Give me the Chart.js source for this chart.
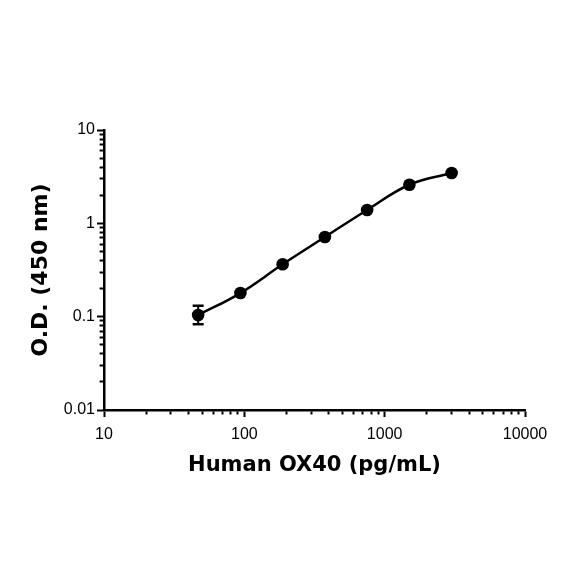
<!DOCTYPE html>
<html>
<head>
<meta charset="utf-8">
<script src="https://cdn.jsdelivr.net/npm/chart.js@4/dist/chart.umd.min.js"></script>
<style>
  html, body { margin: 0; padding: 0; background: #ffffff; }
  canvas { display: block; }
</style>
</head>
<body>
<canvas id="c" width="584" height="584"></canvas>
<script>
// ---- data ----
const concentrations = [46.875, 93.75, 187.5, 375, 750, 1500, 3000];   // pg/mL
const odValues       = [0.104, 0.179, 0.364, 0.713, 1.39, 2.59, 3.46];  // O.D. 450 nm
const errorBarX      = [46.875];
const errorBarLow    = [0.083];
const errorBarHigh   = [0.131];

// ---- axis ticks ----
const xMajorTicks = [10, 100, 1000, 10000];
const yMajorTicks = [0.01, 0.1, 1, 10];
const minorMultipliers = [2, 3, 4, 5, 6, 7, 8, 9];

const xTitle = 'Human OX40 (pg/mL)';
const yTitle = 'O.D. (450 nm)';

function buildTicks(majors) {
  const out = [];
  majors.forEach((m, i) => {
    out.push({ value: m, major: true });
    if (i < majors.length - 1) {
      minorMultipliers.forEach(k => out.push({ value: m * k, major: false }));
    }
  });
  return out;
}

const curvePoints = concentrations.map((c, i) => ({ x: c, y: odValues[i] }));
const errPoints = [];
errorBarX.forEach((x, i) => {
  errPoints.push({ x: x, y: errorBarLow[i] });
  errPoints.push({ x: x, y: errorBarHigh[i] });
});

const isMajor = (ctx, majors) => {
  const t = ctx.tick;
  if (!t) return true;
  return majors.some(m => Math.abs(Math.log10(t.value) - Math.log10(m)) < 1e-6);
};

const tickFont = { family: '"Liberation Sans", Arial, sans-serif', size: 16 };
const xTitleFont = { family: '"DejaVu Sans", sans-serif', size: 21, weight: 'bold' };
const yTitleFont = { family: '"DejaVu Sans", sans-serif', size: 22, weight: 'bold' };

new Chart(document.getElementById('c'), {
  type: 'scatter',
  data: {
    datasets: [
      {
        data: errPoints,
        showLine: true,
        borderColor: '#000',
        borderWidth: 2,
        pointStyle: 'line',
        pointRadius: 5.5,
        pointBorderWidth: 2.5,
        pointBorderColor: '#000',
        pointHoverRadius: 5.5,
        order: 2
      },
      {
        data: curvePoints,
        showLine: true,
        borderColor: '#000',
        borderWidth: 2.5,
        tension: 0.4,
        pointRadius: 6.3,
        pointHoverRadius: 6.3,
        pointBackgroundColor: '#000',
        pointBorderColor: '#000',
        pointBorderWidth: 0,
        order: 1
      }
    ]
  },
  options: {
    responsive: false,
    animation: false,
    events: [],
    layout: { padding: { top: 130, right: 59, bottom: 100, left: 0 } },
    plugins: { legend: { display: false }, tooltip: { enabled: false } },
    scales: {
      x: {
        type: 'logarithmic',
        position: 'bottom',
        min: 10,
        max: 10000,
        afterBuildTicks: (s) => { s.ticks = buildTicks(xMajorTicks); },
        afterFit: (s) => { s.height = 74; },
        border: { display: true, color: '#000', width: 2.5 },
        grid: {
          drawOnChartArea: false,
          drawTicks: true,
          tickLength: 7,
          tickWidth: 2,
          tickColor: '#000',
          tickBorderDash: (ctx) => isMajor(ctx, xMajorTicks) ? [] : [3, 100]
        },
        ticks: {
          autoSkip: false,
          maxRotation: 0,
          padding: 8,
          color: '#000',
          font: tickFont,
          callback: function (v) {
            return xMajorTicks.some(m => Math.abs(Math.log10(v) - Math.log10(m)) < 1e-6) ? String(v) : '';
          }
        },
        title: {
          display: true,
          text: xTitle,
          color: '#000',
          font: xTitleFont,
          padding: { top: 0, bottom: 6 }
        }
      },
      y: {
        type: 'logarithmic',
        position: 'left',
        min: 0.01,
        max: 10,
        afterBuildTicks: (s) => { s.ticks = buildTicks(yMajorTicks); },
        afterFit: (s) => { s.width = 104; },
        border: { display: true, color: '#000', width: 2.5 },
        grid: {
          drawOnChartArea: false,
          drawTicks: true,
          tickLength: 7,
          tickWidth: 2,
          tickColor: '#000',
          tickBorderDash: (ctx) => isMajor(ctx, yMajorTicks) ? [] : [0, 2.6, 10, 1]
        },
        ticks: {
          autoSkip: false,
          padding: 2,
          color: '#000',
          font: tickFont,
          callback: function (v) {
            const m = yMajorTicks.find(t => Math.abs(Math.log10(v) - Math.log10(t)) < 1e-6);
            return m !== undefined ? String(m) : '';
          }
        },
        title: {
          display: true,
          text: yTitle,
          color: '#000',
          font: yTitleFont,
          padding: { top: 28, bottom: 0 }
        }
      }
    }
  }
});
</script>
</body>
</html>
